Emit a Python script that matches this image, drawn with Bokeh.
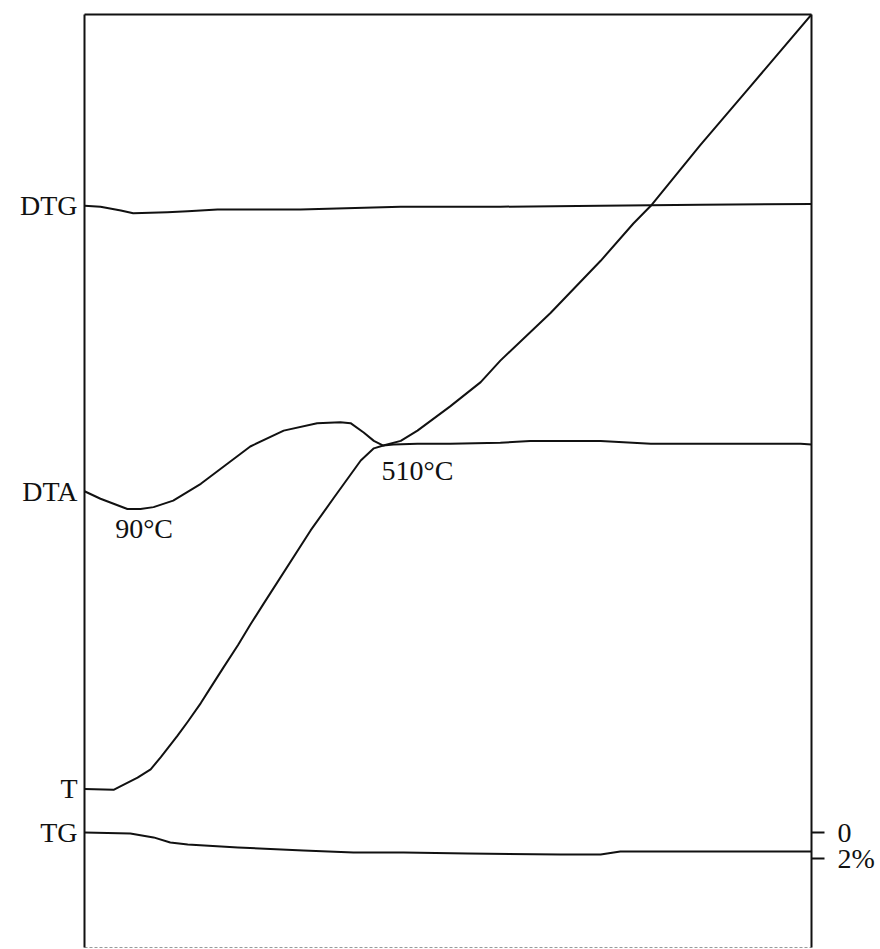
from bokeh.plotting import figure
from bokeh.models import Range1d, LinearAxis, FixedTicker
from bokeh.core.properties import value
from bokeh.embed import file_html
from bokeh.resources import INLINE

# Position along the recorder chart (0 = start of run, 100 = end of chart)
# and trace height on the chart (0 = bottom, 100 = top), arbitrary units.

# Temperature trace
t_x = [0, 4.0, 5.0, 7.3, 9.1, 10.5, 12.8, 14.2, 16.0, 17.3, 19.1, 21.1,
       22.8, 24.6, 31.1, 34.3, 38.0, 39.8, 41.1, 43.5, 45.8, 50.3, 54.5,
       57.2, 64.1, 71.0, 75.5, 77.9, 84.7, 91.6, 100]
t_y = [17.0, 16.9, 17.3, 18.2, 19.1, 20.4, 22.7, 24.2, 26.2, 27.8, 30.0,
       32.4, 34.6, 36.8, 44.7, 48.2, 52.2, 53.5, 53.8, 54.3, 55.4, 58.0,
       60.6, 62.9, 68.0, 73.6, 77.6, 79.5, 86.0, 92.3, 100]

# Differential thermogravimetry trace
dtg_x = [0, 2.2, 5.0, 6.7, 11.4, 14.2, 18.3, 29.7, 43.5, 57.2, 71.0, 84.7, 100]
dtg_y = [79.5, 79.4, 79.0, 78.7, 78.8, 78.9, 79.1, 79.1, 79.4, 79.4, 79.5,
         79.6, 79.7]

# Differential thermal analysis trace
dta_x = [0, 2.2, 5.9, 7.7, 9.5, 12.2, 16.0, 22.8, 27.4, 32.0, 35.2, 36.6,
         38.4, 39.8, 41.1, 42.5, 45.8, 50.3, 57.2, 61.3, 71.0, 77.9, 98.5, 100]
dta_y = [48.9, 48.1, 47.0, 47.0, 47.2, 47.9, 49.7, 53.7, 55.4, 56.2, 56.3,
         56.2, 55.2, 54.3, 53.8, 53.9, 54.0, 54.0, 54.1, 54.3, 54.3, 54.0,
         54.0, 53.9]

# Thermogravimetry trace: mass loss in %
tg_x = [0, 6.3, 9.5, 11.8, 14.2, 21.1, 30.1, 37.0, 43.9, 52.7, 65.5, 71.0,
        73.7, 88.9, 100]
tg_loss = [0, 0.08, 0.38, 0.77, 0.92, 1.15, 1.38, 1.54, 1.54, 1.62, 1.69,
           1.69, 1.46, 1.46, 1.46]

tg_ticks = [0, 2]
tg_tick_labels = ["0", "2%"]

FONT = "Liberation Serif"
INK = "#111111"
FS = "28px"

p = figure(width=880, height=949, output_backend="svg", toolbar_location=None,
           x_range=Range1d(0, 100), y_range=Range1d(0, 100),
           x_axis_location=None, y_axis_location=None,
           min_border_left=84, min_border_right=69,
           min_border_top=14, min_border_bottom=2)
p.outline_line_color = None
p.background_fill_color = "white"
p.border_fill_color = "white"
p.grid.visible = False

tg_range = Range1d(start=8.85, end=-62.92)
p.extra_y_ranges = {"tg": tg_range}

line_kw = dict(line_color=INK, line_width=2.0, line_join="round", line_cap="round")
p.line(t_x, t_y, **line_kw)
p.line(dtg_x, dtg_y, **line_kw)
p.line(dta_x, dta_y, **line_kw)
p.line(tg_x, tg_loss, y_range_name="tg", **line_kw)

# Curve names sit at each trace's starting level on the left edge
tg_start = (tg_range.start - tg_loss[0]) / (tg_range.start - tg_range.end) * 100
name_ticks = [dtg_y[0], dta_y[0], t_y[0], tg_start]
name_labels = ["DTG", "DTA", "T", "TG"]

left = LinearAxis(
    ticker=FixedTicker(ticks=name_ticks),
    major_label_overrides=dict(zip(name_ticks, name_labels)),
    major_tick_out=0, major_tick_in=0, minor_tick_out=0, minor_tick_in=0,
    major_label_standoff=7, axis_line_color=INK, axis_line_width=2.0,
    major_label_text_font=FONT, major_label_text_font_size=FS,
    major_label_text_color=INK)
p.add_layout(left, "left")

right = LinearAxis(
    y_range_name="tg",
    ticker=FixedTicker(ticks=tg_ticks),
    major_label_overrides=dict(zip(tg_ticks, tg_tick_labels)),
    major_tick_out=13, major_tick_in=0, minor_tick_out=0, minor_tick_in=0,
    major_tick_line_color=INK, major_tick_line_width=1.8,
    major_label_standoff=13, axis_line_color=INK, axis_line_width=2.0,
    major_label_text_font=FONT, major_label_text_font_size=FS,
    major_label_text_color=INK)
p.add_layout(right, "right")

top = LinearAxis(
    ticker=FixedTicker(ticks=[]), major_tick_out=0, major_tick_in=0,
    minor_tick_out=0, minor_tick_in=0, major_label_standoff=0,
    major_label_text_font_size="0px", axis_line_color=INK, axis_line_width=2.0)
p.add_layout(top, "above")

bottom = LinearAxis(
    ticker=FixedTicker(ticks=[]), major_tick_out=0, major_tick_in=0,
    minor_tick_out=0, minor_tick_in=0, major_label_standoff=0,
    major_label_text_font_size="0px", axis_line_color="#9a9a9a",
    axis_line_width=1.2, axis_line_dash="3 2")
p.add_layout(bottom, "below")

# Peak temperatures
p.text(x=[8.2], y=[44.9], text=["90°C"], text_align="center",
       text_baseline="middle", text_font=value(FONT), text_font_size=FS,
       text_color=INK)
p.text(x=[45.8], y=[51.1], text=["510°C"], text_align="center",
       text_baseline="middle", text_font=value(FONT), text_font_size=FS,
       text_color=INK)

open("out.html", "w").write(file_html(p, INLINE))
